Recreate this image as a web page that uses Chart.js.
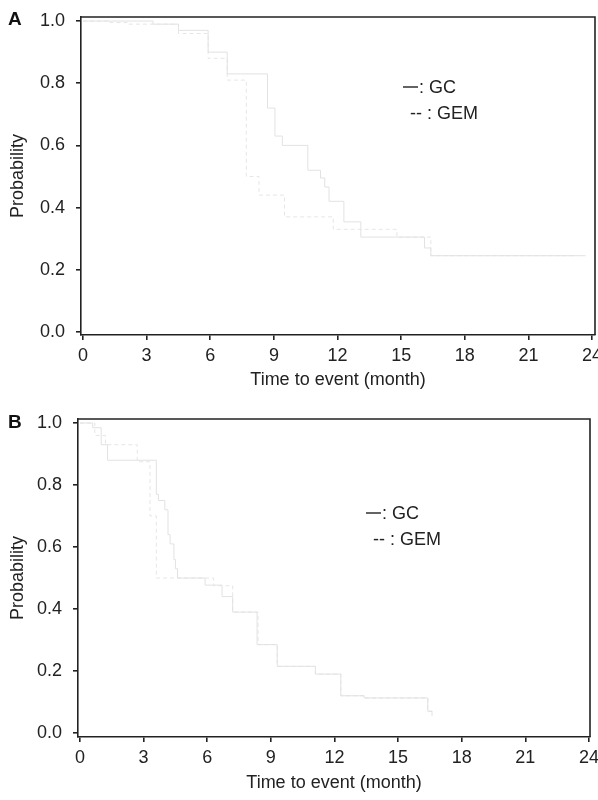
<!DOCTYPE html>
<html><head><meta charset="utf-8">
<script src="https://cdn.jsdelivr.net/npm/chart.js@4"></script>
<style>
html,body{margin:0;padding:0;background:#fff;width:598px;height:800px;overflow:hidden}
canvas{position:absolute;left:0}
#ca{top:0}#cb{top:400px}
</style></head><body>
<canvas id="ca" width="598" height="400"></canvas>
<canvas id="cb" width="598" height="400"></canvas>
<script>
// ---- data ----
const xTicks = [0, 3, 6, 9, 12, 15, 18, 21, 24];
const yTicks = [0.0, 0.2, 0.4, 0.6, 0.8, 1.0];
const xTitle = "Time to event (month)";
const yTitle = "Probability";
const legendGC = ": GC";
const legendGEM = "-- : GEM";

// Panel A
const aGCTime = [0, 3.3, 4.5, 5.9, 6.8, 8.7, 9.05, 9.4, 10.6, 11.2, 11.4, 11.6, 12.3, 13.1, 16.1, 16.4, 23.7];
const aGCProb = [1.0, 0.99, 0.97, 0.90, 0.83, 0.72, 0.63, 0.60, 0.52, 0.495, 0.466, 0.42, 0.354, 0.305, 0.27, 0.245, 0.245];
const aGEMTime = [0, 1.2, 2.1, 4.5, 5.9, 6.8, 7.7, 8.3, 9.5, 11.8, 14.8, 16.4, 20.2, 23.3];
const aGEMProb = [1.0, 0.995, 0.99, 0.96, 0.88, 0.81, 0.50, 0.44, 0.37, 0.33, 0.305, 0.245, 0.245, 0.245];

// Panel B
const bGCTime = [0, 0.6, 1.0, 1.3, 3.6, 3.7, 4.0, 4.15, 4.25, 4.43, 4.5, 4.6, 5.9, 6.7, 7.2, 8.35, 9.3, 11.1, 12.3, 13.4, 16.4, 16.6];
const bGCProb = [1.0, 0.985, 0.93, 0.88, 0.77, 0.75, 0.72, 0.64, 0.61, 0.56, 0.53, 0.50, 0.477, 0.44, 0.39, 0.285, 0.215, 0.19, 0.12, 0.113, 0.07, 0.055];
const bGEMTime = [0, 0.7, 1.2, 2.7, 3.3, 3.6, 6.3, 7.2, 8.4, 9.3, 11.1, 12.3, 13.4, 16.4, 16.6];
const bGEMProb = [1.0, 0.96, 0.93, 0.875, 0.70, 0.50, 0.475, 0.39, 0.285, 0.215, 0.19, 0.12, 0.113, 0.07, 0.06];

const FONT = "'Liberation Sans', Arial, Helvetica, sans-serif";
const INK = '#222';
const FS = 18;

function pts(t, p) { return t.map((v, i) => ({x: v, y: p[i]})); }

function panel(id, cfg) {
  const framePlugin = {
    id: 'frame',
    afterDraw(chart) {
      const {ctx, chartArea: a} = chart;
      ctx.save();
      ctx.strokeStyle = INK;
      ctx.lineWidth = 1.6;
      ctx.beginPath();
      ctx.moveTo(a.left, a.top); ctx.lineTo(a.right, a.top); ctx.lineTo(a.right, a.bottom);
      ctx.stroke();
      // panel letter
      ctx.fillStyle = '#111';
      ctx.font = "bold 19px " + FONT;
      ctx.textBaseline = 'middle';
      ctx.textAlign = 'left';
      ctx.fillText(cfg.letter, 8, cfg.letterY);
      // legend
      ctx.font = FS + "px " + FONT;
      ctx.fillStyle = INK;
      ctx.lineWidth = 1.4;
      ctx.beginPath();
      ctx.moveTo(cfg.legX, cfg.legY); ctx.lineTo(cfg.legX + 15, cfg.legY);
      ctx.stroke();
      ctx.fillText(legendGC, cfg.legX + 16, cfg.legY + 1);
      ctx.fillText(legendGEM, cfg.legX + 7, cfg.legY + 27);
      ctx.restore();
    }
  };
  return new Chart(document.getElementById(id), {
    type: 'line',
    data: {
      datasets: [
        {label: 'GC', data: pts(cfg.gcT, cfg.gcP), stepped: 'before', borderColor: '#e2e2e2', borderWidth: 1, pointRadius: 0, fill: false},
        {label: 'GEM', data: pts(cfg.gemT, cfg.gemP), stepped: 'before', borderColor: '#e6e6e6', borderWidth: 1, borderDash: [4, 3], pointRadius: 0, fill: false}
      ]
    },
    options: {
      responsive: false, animation: false,
      layout: {padding: {top: cfg.top, right: cfg.right, left: 0, bottom: 0}},
      plugins: {legend: {display: false}, tooltip: {enabled: false}},
      scales: {
        x: {
          type: 'linear', min: cfg.xmin, max: cfg.xmax,
          afterBuildTicks: s => { s.ticks = xTicks.map(v => ({value: v})); },
          afterFit: s => { s.height = cfg.xh; s.paddingLeft = 0; s.paddingRight = 0; },
          border: {color: INK, width: 1.6},
          grid: {drawOnChartArea: false, drawTicks: true, tickLength: 5, color: INK, lineWidth: 1.6},
          ticks: {color: INK, font: {family: FONT, size: FS}, padding: 5, maxRotation: 0, autoSkip: false,
                  callback: v => String(v)},
          title: {display: true, text: xTitle, color: INK, font: {family: FONT, size: FS}, padding: {top: 0, bottom: cfg.xtPad}}
        },
        y: {
          type: 'linear', min: cfg.ymin, max: cfg.ymax,
          afterBuildTicks: s => { s.ticks = yTicks.map(v => ({value: v})); },
          afterFit: s => { s.width = cfg.left; s.paddingTop = 0; s.paddingBottom = 0; },
          border: {color: INK, width: 1.6},
          grid: {drawOnChartArea: false, drawTicks: true, tickLength: 5, color: INK, lineWidth: 1.6},
          ticks: {color: INK, font: {family: FONT, size: FS}, padding: 11, callback: v => Number(v).toFixed(1)},
          title: {display: true, text: yTitle, color: INK, font: {family: FONT, size: FS}, padding: {top: 7, bottom: 0}}
        }
      }
    },
    plugins: [framePlugin]
  });
}

panel('ca', {
  gcT: aGCTime, gcP: aGCProb, gemT: aGEMTime, gemP: aGEMProb,
  top: 17, right: 3, left: 81, xh: 65, xtPad: 9,
  xmin: -0.094, xmax: 24.14, ymin: -0.01, ymax: 1.013,
  letter: 'A', letterY: 20, legX: 403, legY: 87
});
panel('cb', {
  gcT: bGCTime, gcP: bGCProb, gemT: bGEMTime, gemP: bGEMProb,
  top: 19, right: 8, left: 78, xh: 63, xtPad: 6,
  xmin: -0.094, xmax: 24.05, ymin: -0.013, ymax: 1.013,
  letter: 'B', letterY: 23, legX: 366, legY: 113
});
</script>
</body></html>
